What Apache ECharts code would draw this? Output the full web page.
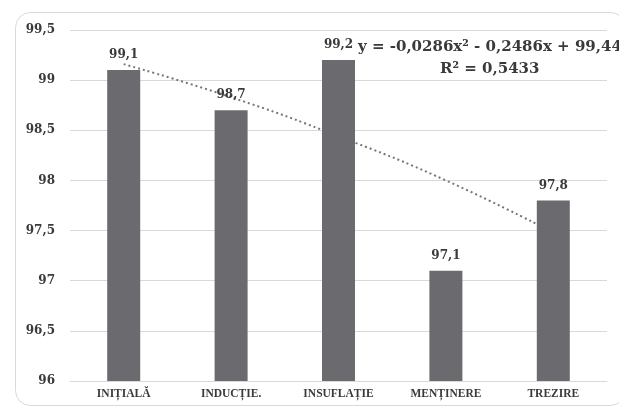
<!DOCTYPE html>
<html>
<head>
<meta charset="utf-8">
<script src="https://cdn.jsdelivr.net/npm/echarts@6/dist/echarts.min.js"></script>
<style>
html,body{margin:0;padding:0;background:#fff;}
#chart{width:619px;height:406px;}
</style>
</head>
<body>
<div id="chart"></div>
<script>
const categories = ['INIȚIALĂ', 'INDUCȚIE.', 'INSUFLAȚIE', 'MENȚINERE', 'TREZIRE'];
const values = [99.1, 98.7, 99.2, 97.1, 97.8];
const valueLabels = ['99,1', '98,7', '99,2', '97,1', '97,8'];
const trendValues = [99.16, 98.83, 98.44, 98.0, 97.48];
const yTicks = [96, 96.5, 97, 97.5, 98, 98.5, 99, 99.5];
const equationText = 'y = -0,0286x² - 0,2486x + 99,44';
const r2Text = 'R² = 0,5433';

const serif = '"DejaVu Serif", "Liberation Serif", serif';
const chart = echarts.init(document.getElementById('chart'));
chart.setOption({
  animation: false,
  backgroundColor: '#fff',
  grid: { left: 70, right: 12, top: 30, bottom: 25, containLabel: false },
  xAxis: {
    type: 'category',
    data: categories,
    axisLine: { show: true, lineStyle: { color: '#d9d9d9', width: 1 } },
    axisTick: { show: false },
    axisLabel: { color: '#3a3a3a', fontFamily: '"Liberation Serif", serif', fontWeight: 'bold', fontSize: 11.5, margin: 7 }
  },
  yAxis: {
    type: 'value',
    min: 96, max: 99.5, interval: 0.5,
    axisLine: { show: false },
    axisTick: { show: false },
    splitLine: { lineStyle: { color: '#d9d9d9', width: 1 } },
    axisLabel: {
      color: '#3a3a3a', fontFamily: serif, fontWeight: 'bold', fontSize: 12, margin: 15,
      formatter: v => yTicks.includes(+v.toFixed(1)) ? String(v).replace('.', ',') : ''
    }
  },
  series: [
    {
      type: 'line',
      data: trendValues,
      smooth: true,
      symbol: 'none',
      z: 1,
      lineStyle: { color: '#767676', width: 2, type: [2, 3] },
      silent: true
    },
    {
      type: 'bar',
      data: values,
      barWidth: 33,
      z: 2,
      itemStyle: { color: '#6b6b6f' },
      label: {
        show: true, position: 'top', distance: 9,
        color: '#3a3a3a', fontFamily: serif, fontWeight: 'bold', fontSize: 12,
        formatter: p => valueLabels[p.dataIndex]
      }
    }
  ],
  graphic: [
    {
      type: 'rect', left: 13, top: 10, z: -10,
      shape: { width: 610, height: 393, r: 15 },
      style: { fill: 'none', stroke: '#d9d9d9', lineWidth: 1 }
    },
    {
      type: 'text', left: 358, top: 40, z: 10,
      style: { text: equationText, fill: '#3a3a3a', font: 'bold 15px ' + serif }
    },
    {
      type: 'text', left: 440, top: 62, z: 10,
      style: { text: r2Text, fill: '#3a3a3a', font: 'bold 15px ' + serif }
    }
  ]
});
</script>
</body>
</html>
